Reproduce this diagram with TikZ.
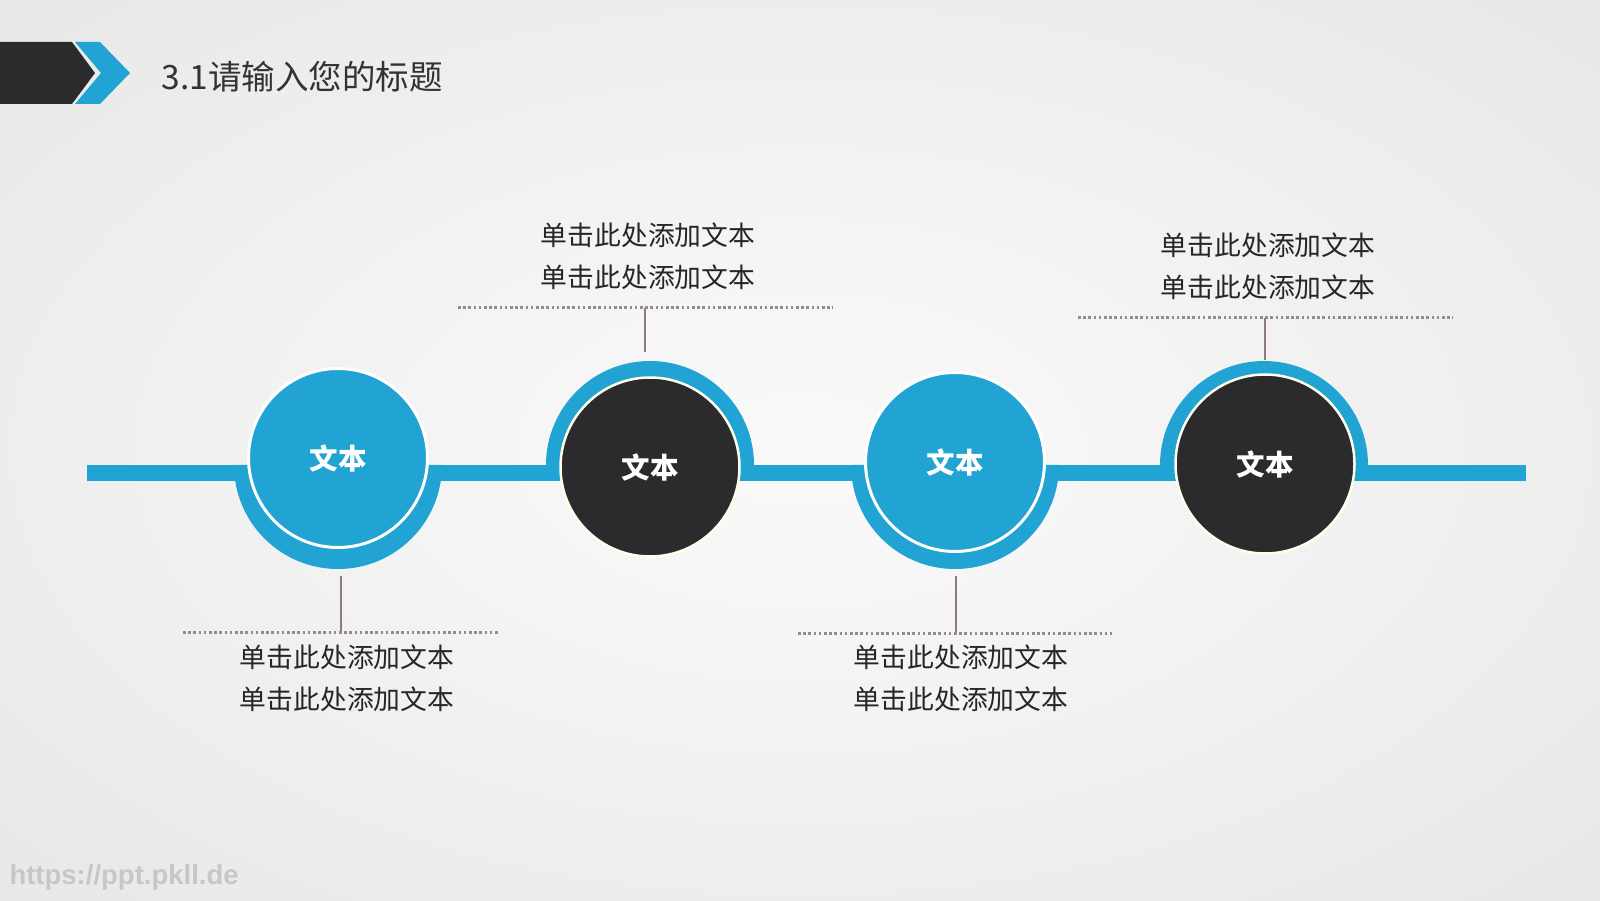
\documentclass[tikz,border=0pt]{standalone}
\usepackage{fontspec}
\usepackage{xcolor}
\setmainfont{Noto Sans CJK SC}
\newfontfamily\markfont{Liberation Sans}
\usetikzlibrary{positioning}
\definecolor{mainblue}{HTML}{21A3D3}
\definecolor{darkgrey}{HTML}{2B2B2D}
\definecolor{tickbrown}{HTML}{8E7C7C}
\definecolor{bglight}{HTML}{FAFAFA}
\definecolor{bgmid}{HTML}{F2F2F2}
\definecolor{bgdark}{HTML}{D5D5D5}
\pgfdeclareradialshading{bgglow}{\pgfpoint{0bp}{0bp}}{color(0bp)=(bglight); color(16bp)=(bgmid); color(72bp)=(bgdark)}
\tikzstyle{blue state}=[
        draw = white,
        line width = 3pt,
        fill = mainblue,
        minimum size = 179pt,
        text = white,
        font = \fontsize{28.5}{30}\selectfont\bfseries,
        circle
    ]
\tikzstyle{dark state}=[
    draw = white!92!yellow,
    line width = 2.5pt,
    fill = darkgrey,
    minimum size = 179pt,
    text = white,
    font = \fontsize{28.5}{30}\selectfont\bfseries,
    circle
]
\tikzstyle{tick}=[draw = tickbrown, line width = 2.7pt]
\tikzstyle{dots}=[draw = tickbrown!90!white, line width = 3pt, dash pattern = on 2.6pt off 2.6pt]
\tikzstyle{label text}=[align = center, text = black!85, font = \fontsize{26.8}{42.5}\selectfont]

\begin{document}
\begin{tikzpicture}[x = 1pt, y = 1pt, bar/.style = {draw = mainblue, line width = 16pt}]
        \useasboundingbox (0,0) rectangle (1600,900);
        \shade[shading = bgglow] (0,0) rectangle (1600,900);

        % header
        \fill[darkgrey] (0,858) -- (72,858) -- (95,827) -- (72,796) -- (0,796) -- cycle;
        \fill[mainblue] (75,858) -- (100,858) -- (130,827) -- (100,796) -- (75,796) -- (101,827) -- cycle;
        \node[anchor = west, text = black!80, font = \fontsize{33.5}{36}\selectfont] (title) at (158,823) {3.1请输入您的标题};

        % timeline
        \coordinate (start) at (87,427);
        \coordinate (end) at (1526,427);
        \draw[bar] (start) -- (end);
        \fill[mainblue] (234,435) arc[start angle = 180, end angle = 360, radius = 104] -- cycle;
        \fill[mainblue] (546,435) arc[start angle = 180, end angle = 0, radius = 104] -- cycle;
        \fill[mainblue] (851,435) arc[start angle = 180, end angle = 360, radius = 104] -- cycle;
        \fill[mainblue] (1160,435) arc[start angle = 180, end angle = 0, radius = 104] -- cycle;

        \node[blue state] (1) at (338,442) {文本};
        \node[dark state] (2) at (650,433) {文本};
        \node[blue state] (3) at (955,438) {文本};
        \node[dark state] (4) at (1265,436) {文本};

        % ticks and dotted rules
        \coordinate (a1) at (341,324);
        \coordinate (b1) at (341,267);
        \coordinate (a2) at (645,548);
        \coordinate (b2) at (645,592);
        \coordinate (a3) at (956,324);
        \coordinate (b3) at (956,266);
        \coordinate (a4) at (1265,540);
        \coordinate (b4) at (1265,582);
        \draw[tick] (a1) -- (b1);
        \draw[tick] (a2) -- (b2);
        \draw[tick] (a3) -- (b3);
        \draw[tick] (a4) -- (b4);
        \draw[dots] (183,267) -- (b1) -- (498,267);
        \draw[dots] (458,592) -- (b2) -- (833,592);
        \draw[dots] (798,266) -- (b3) -- (1112,266);
        \draw[dots] (1078,582) -- (b4) -- (1453,582);

        \node[label text] (l1) at (347,222) {单击此处添加文本\\单击此处添加文本};
        \node[label text] (l2) at (648,644) {单击此处添加文本\\单击此处添加文本};
        \node[label text] (l3) at (961,222) {单击此处添加文本\\单击此处添加文本};
        \node[label text] (l4) at (1268,634) {单击此处添加文本\\单击此处添加文本};

        \node[anchor = west, text = black!22, font = \markfont\bfseries\fontsize{27.5}{30}\selectfont] (mark) at (6,23) {https://ppt.pkll.de};

    \end{tikzpicture}
\end{document}
